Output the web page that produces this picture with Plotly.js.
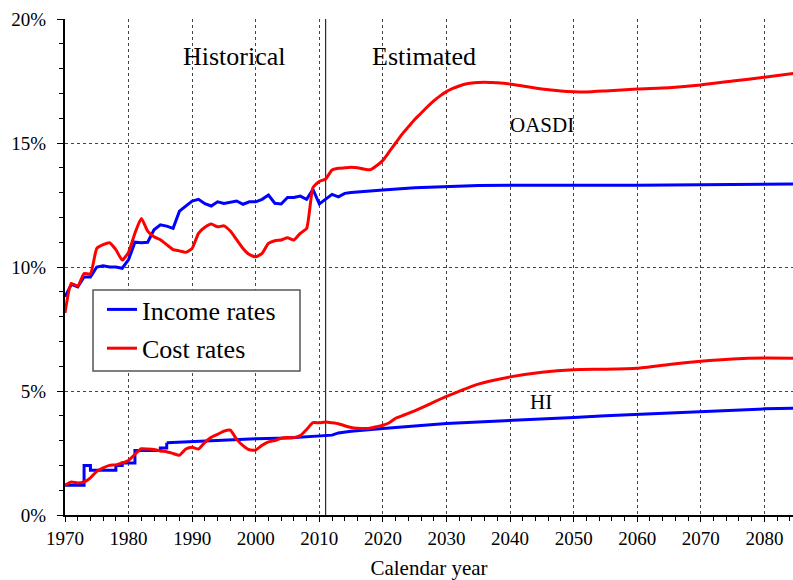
<!DOCTYPE html>
<html>
<head>
<meta charset="utf-8">
<script src="https://cdn.plot.ly/plotly-3.0.1.min.js"></script>
<style>html,body{margin:0;padding:0;background:#fff;}#chart{width:793px;height:580px;}</style>
</head>
<body>
<div id="chart"></div>
<script>
// OASDI income rates (% of taxable payroll)
const oasdiIncomeYears = [1970,1971,1972,1973,1974,1975,1976,1977,1978,1979,1980,1981,1982,1983,1984,1985,1986,1987,1988,1989,1990,1991,1992,1993,1994,1995,1996,1997,1998,1999,2000,2001,2002,2003,2004,2005,2006,2007,2008,2009,2010,2011,2012,2013,2014,2015,2017,2020,2025,2030,2035,2040,2050,2060,2070,2080,2085];
const oasdiIncome = [8.8,9.3,9.2,9.6,9.6,10.0,10.05,10.0,10.0,9.95,10.3,11.0,10.98,11.0,11.5,11.7,11.65,11.56,12.25,12.45,12.66,12.73,12.55,12.46,12.63,12.56,12.6,12.66,12.53,12.63,12.63,12.73,12.9,12.57,12.54,12.8,12.8,12.86,12.73,13.13,12.54,12.75,12.93,12.83,12.97,13.0,13.05,13.1,13.2,13.26,13.29,13.3,13.29,13.3,13.32,13.34,13.35];

// OASDI cost rates
const oasdiCostYears = [1970,1971,1972,1973,1974,1975,1976,1977,1978,1979,1980,1981,1982,1983,1984,1985,1986,1987,1988,1989,1990,1991,1992,1993,1994,1995,1996,1997,1998,1999,2000,2001,2002,2003,2004,2005,2006,2007,2008,2009,2010,2011,2012,2013,2014,2015,2016,2017,2018,2019,2020,2021,2022,2023,2024,2025,2026,2027,2028,2029,2030,2031,2032,2033,2034,2035,2036,2037,2038,2040,2042,2045,2048,2050,2052,2055,2060,2065,2070,2075,2080,2085];
const oasdiCost = [8.15,9.34,9.23,9.74,9.72,10.75,10.9,10.98,10.7,10.28,10.6,11.36,11.96,11.45,11.22,11.1,10.9,10.7,10.65,10.59,10.75,11.36,11.6,11.73,11.62,11.66,11.45,11.1,10.75,10.5,10.41,10.55,10.95,11.06,11.09,11.18,11.09,11.36,11.55,13.2,13.45,13.55,13.91,13.98,14.0,14.02,14.0,13.95,13.92,14.08,14.3,14.65,15.0,15.35,15.65,15.95,16.2,16.46,16.7,16.9,17.07,17.2,17.3,17.38,17.42,17.44,17.45,17.44,17.43,17.38,17.3,17.18,17.1,17.07,17.06,17.1,17.18,17.23,17.34,17.5,17.65,17.82];

// HI income rates: statutory-rate steps, then smooth
const hiIncomeStepYears = [1970,1973,1974,1978,1979,1981,1985,1986];
const hiIncomeStep = [1.2,2.0,1.8,2.0,2.1,2.6,2.7,2.91];
const hiIncomeYears = [1986,1990,1995,2000,2005,2008,2010,2011,2012,2013,2014,2015,2020,2025,2030,2035,2040,2045,2050,2055,2060,2065,2070,2075,2080,2085];
const hiIncome = [2.91,2.96,3.02,3.07,3.1,3.15,3.17,3.18,3.22,3.31,3.35,3.38,3.49,3.6,3.69,3.75,3.8,3.87,3.93,4.0,4.06,4.12,4.18,4.24,4.28,4.31];

// HI cost rates
const hiCostYears = [1970,1971,1972,1973,1974,1975,1976,1977,1978,1979,1980,1981,1982,1983,1984,1985,1986,1987,1988,1989,1990,1991,1992,1993,1994,1995,1996,1997,1998,1999,2000,2001,2002,2003,2004,2005,2006,2007,2008,2009,2010,2011,2012,2013,2014,2015,2016,2017,2018,2019,2020,2021,2022,2023,2025,2030,2035,2040,2045,2050,2055,2060,2065,2070,2075,2080,2085];
const hiCost = [1.2,1.33,1.29,1.33,1.5,1.76,1.9,2.0,2.02,2.1,2.2,2.45,2.67,2.66,2.64,2.58,2.55,2.48,2.41,2.66,2.73,2.66,2.93,3.13,3.25,3.38,3.42,3.05,2.8,2.63,2.62,2.81,2.95,3.0,3.1,3.12,3.12,3.2,3.45,3.72,3.72,3.75,3.72,3.68,3.6,3.53,3.5,3.49,3.5,3.56,3.62,3.72,3.9,4.0,4.2,4.78,5.28,5.57,5.76,5.86,5.88,5.92,6.07,6.2,6.29,6.33,6.32];

const xTickVals = [1970,1980,1990,2000,2010,2020,2030,2040,2050,2060,2070,2080];
const yTickVals = [0,5,10,15,20];
const yTickText = ['0%','5%','10%','15%','20%'];
const splitYear = 2011;

const BLUE = '#0000ff', RED = '#ff0000';
const FONT = 'Liberation Serif';

const traces = [
  {x: oasdiIncomeYears, y: oasdiIncome, name: 'Income rates', legendgroup: 'inc', mode: 'lines', line: {color: BLUE, width: 3}},
  {x: oasdiCostYears, y: oasdiCost, name: 'Cost rates', legendgroup: 'cost', mode: 'lines', line: {color: RED, width: 3, shape: 'spline', smoothing: 0.5}},
  {x: hiIncomeStepYears, y: hiIncomeStep, name: 'Income rates', legendgroup: 'inc', showlegend: false, mode: 'lines', line: {color: BLUE, width: 3, shape: 'hv'}},
  {x: hiIncomeYears, y: hiIncome, name: 'Income rates', legendgroup: 'inc', showlegend: false, mode: 'lines', line: {color: BLUE, width: 3}},
  {x: hiCostYears, y: hiCost, name: 'Cost rates', legendgroup: 'cost', showlegend: false, mode: 'lines', line: {color: RED, width: 3, shape: 'spline', smoothing: 0.5}}
];

const layout = {
  width: 793, height: 580,
  margin: {l: 65, r: 0, t: 19, b: 65},
  paper_bgcolor: '#fff', plot_bgcolor: '#fff',
  font: {family: FONT, size: 19, color: '#000'},
  showlegend: true,
  legend: {x: 0.0508, y: 0.4617, xanchor: 'left', yanchor: 'top', bgcolor: 'rgba(0,0,0,0)', borderwidth: 0,
           font: {family: FONT, size: 26, color: '#000'}, traceorder: 'grouped', tracegroupgap: 2, itemwidth: 30},
  xaxis: {
    range: [1970, 2084.5], tickvals: xTickVals, ticks: 'outside', ticklen: 5, tickwidth: 1, tickcolor: '#000',
    showline: true, linecolor: '#000', linewidth: 2, zeroline: false,
    showgrid: true, gridcolor: '#444', griddash: 'dot', gridwidth: 1,
    minor: {dtick: 2, tick0: 1970, ticks: 'outside', ticklen: 4, tickcolor: '#000', showgrid: false},
    tickfont: {family: FONT, size: 19, color: '#000'}, ticklabelstandoff: 0,
    title: {text: 'Calendar year', font: {family: FONT, size: 21, color: '#000'}, standoff: 15}
  },
  yaxis: {
    range: [0, 20], tickvals: yTickVals, ticktext: yTickText, ticks: 'outside', ticklen: 6, tickwidth: 1, tickcolor: '#000',
    showline: true, linecolor: '#000', linewidth: 2, zeroline: false,
    showgrid: true, gridcolor: '#444', griddash: 'dot', gridwidth: 1,
    minor: {dtick: 1, ticks: 'outside', ticklen: 4, tickcolor: '#000', showgrid: false},
    tickfont: {family: FONT, size: 19, color: '#000'}, ticklabelstandoff: 7
  },
  shapes: [
    {type: 'line', xref: 'x', yref: 'paper', x0: splitYear, x1: splitYear, y0: 0, y1: 1, line: {color: '#000', width: 1}, layer: 'below'},
    {type: 'rect', xref: 'paper', yref: 'paper', x0: 0.0385, x1: 0.3228, y0: 0.2903, y1: 0.4536, fillcolor: '#fff', line: {color: '#555', width: 1.5}, layer: 'above'}
  ],
  annotations: [
    {x: 1996.7, y: 18.47, xref: 'x', yref: 'y', text: 'Historical', showarrow: false, font: {family: FONT, size: 26, color: '#000'}},
    {x: 2026.4, y: 18.47, xref: 'x', yref: 'y', text: 'Estimated', showarrow: false, font: {family: FONT, size: 26, color: '#000'}},
    {x: 2045.1, y: 15.72, xref: 'x', yref: 'y', text: 'OASDI', showarrow: false, font: {family: FONT, size: 21, color: '#000'}},
    {x: 2044.9, y: 4.56, xref: 'x', yref: 'y', text: 'HI', showarrow: false, font: {family: FONT, size: 21, color: '#000'}}
  ]
};

Plotly.newPlot('chart', traces, layout, {displayModeBar: false, staticPlot: true});
</script>
</body>
</html>
